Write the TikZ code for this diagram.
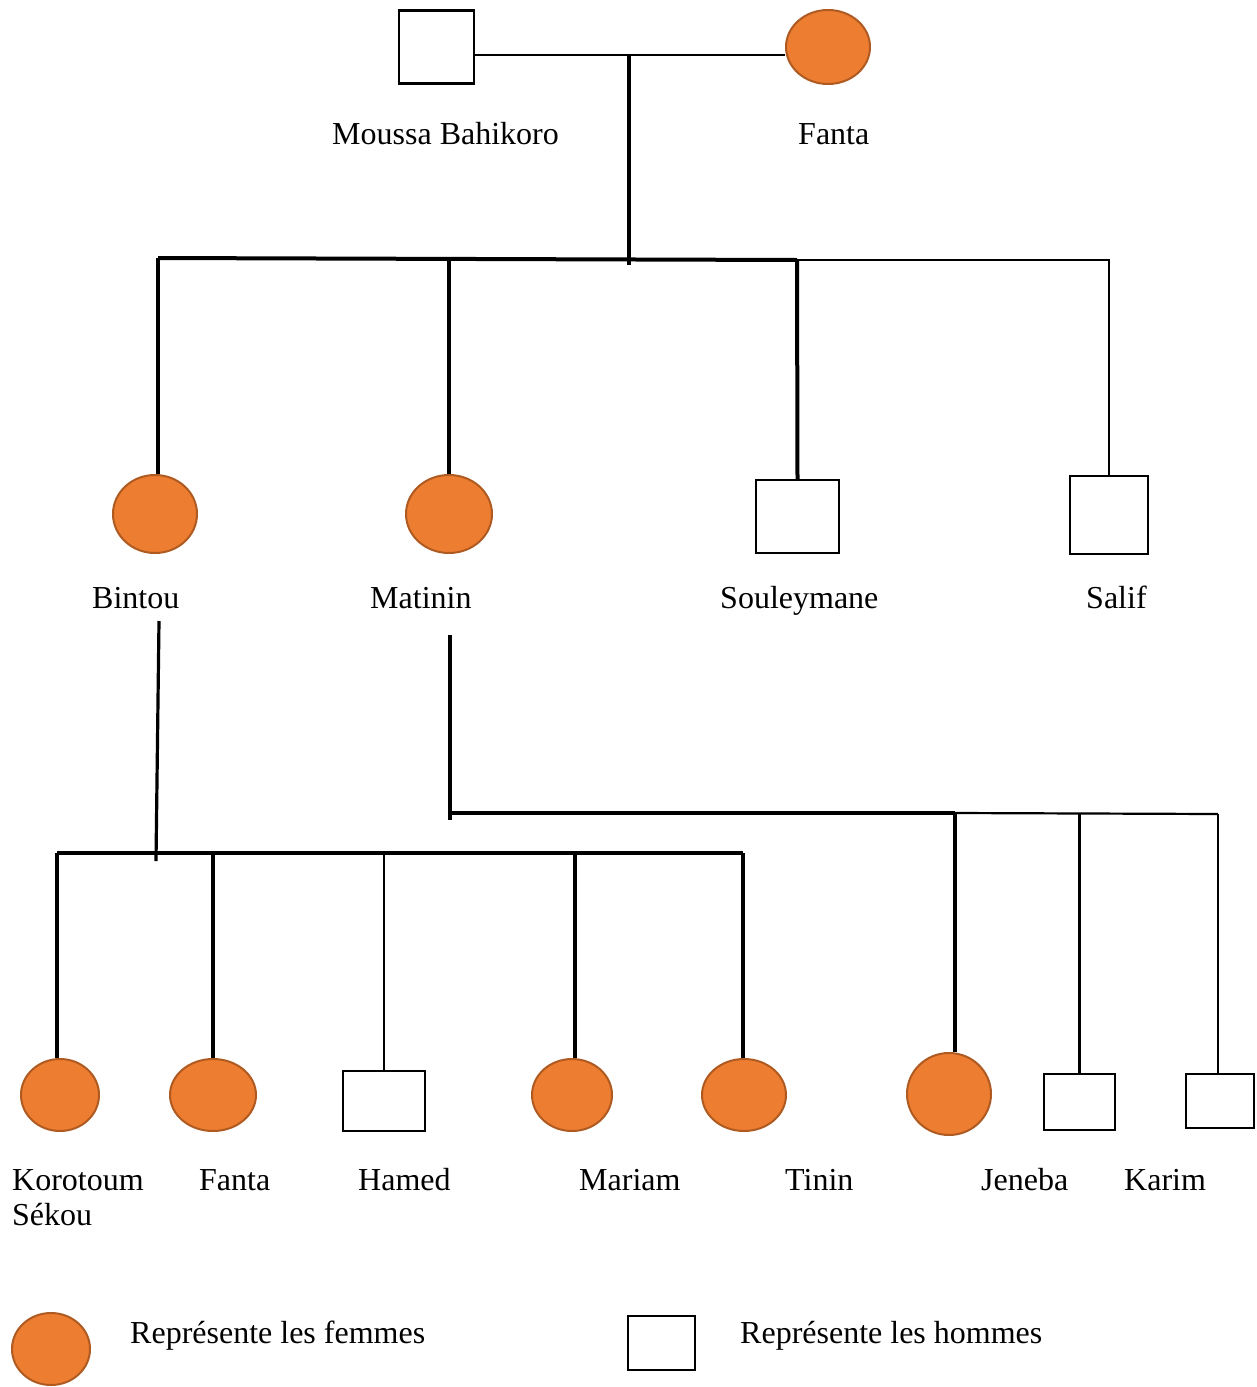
\documentclass[tikz,border=0pt]{standalone}
\usepackage{fontspec}
\setmainfont{Liberation Serif}
\usetikzlibrary{shapes.geometric}
\definecolor{femfill}{HTML}{ED7D31}
\definecolor{femline}{HTML}{AE5A21}
\begin{document}
\begin{tikzpicture}[x=1pt,y=-1pt,
  fem/.style={ellipse, draw=femline, fill=femfill, line width=2pt, inner sep=0pt},
  mal/.style={rectangle, draw=black, line width=2.5pt, inner sep=0pt, fill=white},
  lbl/.style={anchor=base west, inner sep=0pt, font=\fontsize{32}{35}\selectfont},
  thk/.style={line width=4pt},
  mid/.style={line width=3.2pt},
  thn/.style={line width=2.2pt},
  hair/.style={line width=1.5pt}]
\useasboundingbox[fill=white] (0,0) rectangle (1257,1387);

% generation 1
\node[mal, minimum width=75pt, minimum height=73pt] (moussa) at (436.5,47) {};
\node[fem, minimum width=84pt, minimum height=74pt] (fanta) at (828,47) {};
\node[lbl] (lmoussa) at (332,144) {Moussa Bahikoro};
\node[lbl] (lfanta) at (798,144) {Fanta};

% generation 2
\node[fem, minimum width=84pt, minimum height=78pt] (bintou) at (155,514) {};
\node[fem, minimum width=86pt, minimum height=78pt] (matinin) at (449,514) {};
\node[mal, minimum width=83pt, minimum height=73pt] (soul) at (797.5,516.5) {};
\node[mal, minimum width=78pt, minimum height=78pt] (salif) at (1109,515) {};
\node[lbl] (lbintou) at (92,608) {Bintou};
\node[lbl] (lmatinin) at (370,608) {Matinin};
\node[lbl] (lsoul) at (720,608) {Souleymane};
\node[lbl] (lsalif) at (1086,608) {Salif};

% generation 3
\node[fem, minimum width=78pt, minimum height=72pt] (kor) at (60,1095) {};
\node[fem, minimum width=86pt, minimum height=72pt] (fanta2) at (213,1095) {};
\node[mal, minimum width=82pt, minimum height=60pt] (hamed) at (384,1101) {};
\node[fem, minimum width=80pt, minimum height=72pt] (mariam) at (572,1095) {};
\node[fem, minimum width=84pt, minimum height=72pt] (tinin) at (744,1095) {};
\node[fem, minimum width=84pt, minimum height=82pt] (jeneba) at (949,1094) {};
\node[mal, minimum width=71pt, minimum height=56pt] (boy) at (1079.5,1102) {};
\node[mal, minimum width=68pt, minimum height=54pt] (karim) at (1220,1101) {};
\node[lbl] (lkor) at (12,1190) {Korotoum};
\node[lbl] (lkor2) at (12,1225) {Sékou};
\node[lbl] (lfanta2) at (199,1190) {Fanta};
\node[lbl] (lhamed) at (358,1190) {Hamed};
\node[lbl] (lmariam) at (579,1190) {Mariam};
\node[lbl] (ltinin) at (785,1190) {Tinin};
\node[lbl] (ljeneba) at (981,1190) {Jeneba};
\node[lbl] (lkarim) at (1124,1190) {Karim};

% legend
\node[fem, minimum width=78pt, minimum height=72pt] (legf) at (51,1349) {};
\node[lbl] (llegf) at (130,1343) {Représente les femmes};
\node[mal, minimum width=67pt, minimum height=54pt] (legm) at (661.5,1343) {};
\node[lbl] (llegm) at (740,1343) {Représente les hommes};

% junction coordinates
\coordinate (mj) at (629,55);
\coordinate (mb) at (629,265);
\coordinate (sb1) at (158,258);
\coordinate (sb2) at (797,260);
\coordinate (bt) at (159,621);
\coordinate (bb) at (156,861);
\coordinate (cb1) at (57,853);
\coordinate (cb2) at (743,853);
\coordinate (mm) at (575,853);
\coordinate (mt) at (450,635);
\coordinate (mbt) at (450,820);
\coordinate (jb1) at (450,813);
\coordinate (jb2) at (955,813);
\coordinate (jb3) at (1218,814);

% connectors generation 1 -> 2
\draw[thn] (moussa.east |- mj) -- (fanta.west |- mj);
\draw[thk] (mj) -- (mb);
\draw[thk] (sb1) -- (sb2);
\draw[thk] (sb1) -- (sb1 |- bintou.north);
\draw[thk] (matinin.north) -- (matinin.north |- sb1);
\draw[thk] (soul.north) -- (sb2);
\draw[thn] (sb2) -- (sb2 -| salif.north) -- (salif.north);

% Bintou -> children
\draw[mid] (bt) -- (bb);
\draw[thk] (cb1) -- (cb2);
\draw[thk] (cb1) -- (cb1 |- kor.north);
\draw[thk] (fanta2.north |- cb1) -- (fanta2.north);
\draw[thn] (hamed.north |- cb1) -- (hamed.north);
\draw[thk] (mm) -- (mm |- mariam.north);
\draw[thk] (cb2) -- (cb2 |- tinin.north);

% Matinin -> children
\draw[mid] (mt) -- (mbt);
\draw[thk] (jb1) -- (jb2);
\draw[thn] (jb2) -- (jb3);
\draw[mid] (jb2) -- (jb2 |- jeneba.north);
\draw[thn] (boy.north |- jb2) -- (boy.north);
\draw[hair] (jb3) -- (jb3 |- karim.north);
\end{tikzpicture}
\end{document}
